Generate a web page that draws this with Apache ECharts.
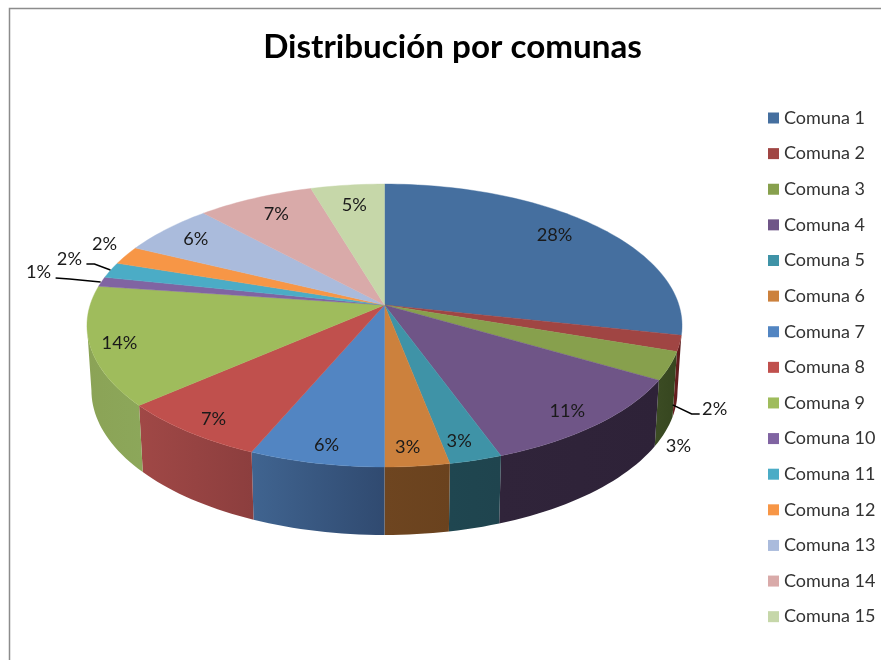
<!DOCTYPE html>
<html><head><meta charset="utf-8">
<style>html,body{margin:0;padding:0;background:#fff}#c{width:881px;height:660px}</style>
<script src="https://cdn.jsdelivr.net/npm/echarts@6/dist/echarts.min.js"></script>
</head><body><div id="c"></div>
<script>
// ---- data ----
const titleText = 'Distribución por comunas';
const categories = ['Comuna 1','Comuna 2','Comuna 3','Comuna 4','Comuna 5','Comuna 6','Comuna 7','Comuna 8','Comuna 9','Comuna 10','Comuna 11','Comuna 12','Comuna 13','Comuna 14','Comuna 15'];
const values = [28.4,1.8,3.2,11.05,2.5,3.05,6.4,7.2,13.6,1.1,1.8,2.1,5.9,7.3,4.6];
// ---- styles ----
const topColors = ['#456f9f','#a04543','#87a04d','#6f5587','#3f93a7','#cc813d','#5285c2','#c0504d','#9fbc5c','#8064a2','#4bacc6','#f79646','#aabbdc','#d9aaa9','#c6d7a9'];
const wallFrom = ['#2f4c6e','#6a1f20','#3c4c24','#30243a','#1f4650','#6e4520','#406490','#a04846','#8ba356','#55436c','#32728a','#a4642e','#71808f','#907070','#848f70'];
const wallTo   = ['#2f4c6e','#5a1a1a','#36461f','#2e2238','#1f444e','#6a421e','#304a70','#8c3e3e','#8ca75a','#55436c','#32728a','#a4642e','#71808f','#907070','#848f70'];
const legendIconColors = topColors;
// label placement relative to the slice: radius fraction, angular shift in degrees
const labelRadius = [.828,1.217,1.243,.887,.888,.895,.899,.900,.905,1.242,1.177,1.119,.858,.832,.814];
const labelShift  = [-2.3,18.3,21.1,.8,1.0,1.1,-.5,-.8,-.3,1.6,2.1,2.7,.1,.5,.2];
// leader lines, offsets from the label centre
const leaders = {1:[[-15,5],[-23,5],[-42,-4]], 9:[[17,6],[31,7],[62,10]], 10:[[17,5],[25,5],[41,11]]};
// ---- pie geometry (perspective projection of a disc) ----
const cx=384.5, cy=305, K=.1449, SY=138.5, SX=294.4, DEPTH=64.3, SY2=141.7, SX2=.985*294.4;
const EDGE_R=98.3, EDGE_L=261.7; // angles of the left and right silhouette
const rad=d=>d*Math.PI/180;
function topPt(r,deg){const X=r*Math.sin(rad(deg)),Y=r*Math.cos(rad(deg)),w=1+K*Y;return [cx+SX*X/w,cy-SY*Y/w];}
function botPt(deg){const X=Math.sin(rad(deg)),Y=Math.cos(rad(deg)),w=1+K*Y;return [cx+SX2*X/w,cy+DEPTH-SY2*Y/w];}
const total=values.reduce((a,b)=>a+b,0);
const starts=[];values.reduce((a,v,i)=>{starts[i]=a;return a+v;},0);
function renderSlice(i){
  const a0=starts[i]/total*360,a1=(starts[i]+values[i])/total*360,mid=(a0+a1)/2;
  const n=Math.max(4,Math.ceil((a1-a0)/1.5));
  const rimT=[];
  for(let j=0;j<=n;j++){rimT.push(topPt(1,a0+(a1-a0)*j/n));}
  const children=[];
  const w0=Math.max(a0,EDGE_R),w1=Math.min(a1,EDGE_L);
  if(w1>w0){
    const m=Math.max(3,Math.ceil((w1-w0)/1.5)),wt=[],wb=[];
    for(let j=0;j<=m;j++){const d=w0+(w1-w0)*j/m;wt.push(topPt(1,d));wb.push(botPt(d));}
    children.push({type:'polygon',z2:1,shape:{points:wt.concat(wb.reverse())},style:{fill:new echarts.graphic.LinearGradient(0,0,1,0,[{offset:0,color:wallFrom[i]},{offset:1,color:wallTo[i]}])}});
  }
  children.push({type:'polygon',z2:2,shape:{points:[[cx,cy]].concat(rimT)},style:{fill:topColors[i],stroke:topColors[i],lineWidth:.4}});
  const lp=topPt(labelRadius[i],mid+labelShift[i]);
  if(leaders[i]){
    children.push({type:'polyline',z2:3,shape:{points:leaders[i].map(o=>[lp[0]+o[0],lp[1]+o[1]])},style:{stroke:'#000',lineWidth:1.5,fill:null}});
  }
  children.push({type:'text',z2:4,x:lp[0],y:lp[1],style:{text:Math.round(values[i])+'%',font:'18.2px Lato',fill:'#1a1a1a',align:'center',verticalAlign:'middle'}});
  return {type:'group',children};
}
const series=categories.map((name,i)=>({
  type:'custom',name,coordinateSystem:'none',data:[values[i]],silent:true,animation:false,
  itemStyle:{color:legendIconColors[i]},
  renderItem:()=>renderSlice(i)
}));
const chart=echarts.init(document.getElementById('c'),null,{renderer:'canvas'});
chart.setOption({
  animation:false,backgroundColor:'#fff',
  title:{text:titleText,left:447.5,top:26,textAlign:'center',textStyle:{fontFamily:'Lato',fontWeight:'bold',fontSize:33.2,color:'#000'}},
  legend:{orient:'vertical',left:763,top:104,icon:'rect',itemWidth:11,itemHeight:11,itemGap:17.62,selectedMode:false,
    textStyle:{fontFamily:'Lato',fontSize:18,color:'#333',lineHeight:18},data:categories},
  graphic:[{type:'polyline',silent:true,shape:{points:[[9.5,660],[9.5,8.5],[881,8.5]]},style:{stroke:'#8c8c8c',lineWidth:1.5,fill:null}}],
  series
});
</script></body></html>
